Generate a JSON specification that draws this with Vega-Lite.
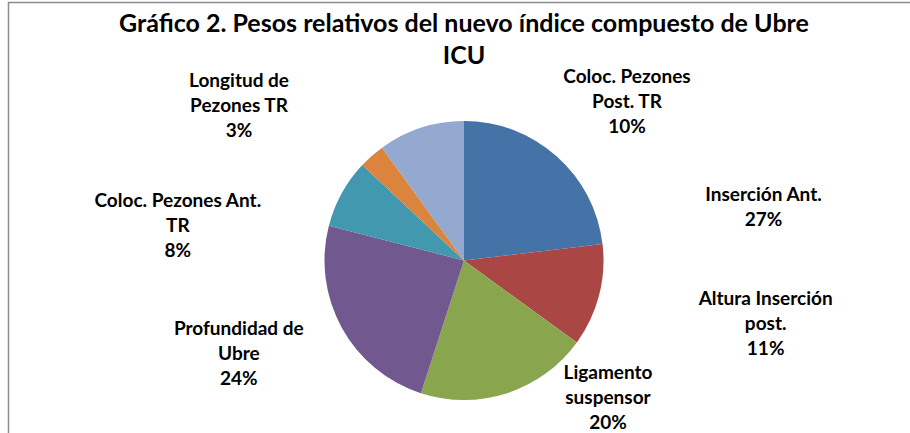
{
  "$schema": "https://vega.github.io/schema/vega-lite/v6.json",
  "width": 911,
  "height": 516,
  "autosize": {"type": "none"},
  "padding": {"left": 8.5, "top": 2.5, "right": -9.5, "bottom": -85.5},
  "background": "white",
  "view": {"stroke": "#8c8c8c", "strokeWidth": 1.5, "fill": "white"},
  "config": {
    "view": {"stroke": "#8c8c8c", "strokeWidth": 1.5},
    "text": {"font": "Lato", "fontWeight": "bold", "fontSize": 19, "lineHeight": 25, "color": "#000000", "align": "center", "baseline": "middle", "lineBreak": "\n"}
  },
  "title": {
    "text": ["Gráfico 2. Pesos relativos del nuevo índice compuesto de Ubre", "ICU"],
    "font": "Lato",
    "fontWeight": "bold",
    "fontSize": 25,
    "lineHeight": 32.6,
    "color": "#000000",
    "anchor": "middle",
    "frame": "group",
    "offset": -123
  },
  "data": {
    "values": [
      {"name": "Inserción Ant.", "value": 23.1, "label": "Inserción Ant.\n27%", "ord": 1},
      {"name": "Altura Inserción post.", "value": 11.9, "label": "Altura Inserción\npost.\n11%", "ord": 2},
      {"name": "Ligamento suspensor", "value": 20.0, "label": "Ligamento\nsuspensor\n20%", "ord": 3},
      {"name": "Profundidad de Ubre", "value": 24.0, "label": "Profundidad de\nUbre\n24%", "ord": 4},
      {"name": "Coloc. Pezones Ant. TR", "value": 8.0, "label": "Coloc. Pezones Ant.\nTR\n8%", "ord": 5},
      {"name": "Longitud de Pezones TR", "value": 3.0, "label": "Longitud de\nPezones TR\n3%", "ord": 6},
      {"name": "Coloc. Pezones Post. TR", "value": 10.0, "label": "Coloc. Pezones\nPost. TR\n10%", "ord": 7}
    ]
  },
  "encoding": {
    "theta": {"field": "value", "type": "quantitative", "stack": true},
    "order": {"field": "ord", "type": "quantitative"},
    "detail": {"field": "name", "type": "nominal"}
  },
  "layer": [
    {
      "mark": {"type": "arc", "radius": 139.5},
      "encoding": {
        "color": {
          "field": "name",
          "type": "nominal",
          "legend": null,
          "scale": {
            "domain": ["Inserción Ant.", "Altura Inserción post.", "Ligamento suspensor", "Profundidad de Ubre", "Coloc. Pezones Ant. TR", "Longitud de Pezones TR", "Coloc. Pezones Post. TR"],
            "range": ["#4572A7", "#AA4643", "#89A54E", "#71588F", "#4198AF", "#DB843D", "#93A9CF"]
          }
        }
      }
    },
    {
      "mark": {"type": "text", "radius": 306.6, "thetaOffset": 0.6297},
      "encoding": {"text": {"condition": {"test": "datum.ord === 1", "field": "label"}, "value": ""}}
    },
    {
      "mark": {"type": "text", "radius": 304.1, "thetaOffset": -0.1276},
      "encoding": {"text": {"condition": {"test": "datum.ord === 2", "field": "label"}, "value": ""}}
    },
    {
      "mark": {"type": "text", "radius": 182.7, "thetaOffset": -0.5934},
      "encoding": {"text": {"condition": {"test": "datum.ord === 3", "field": "label"}, "value": ""}}
    },
    {
      "mark": {"type": "text", "radius": 235.4, "thetaOffset": 0.2073},
      "encoding": {"text": {"condition": {"test": "datum.ord === 4", "field": "label"}, "value": ""}}
    },
    {
      "mark": {"type": "text", "radius": 292.3, "thetaOffset": -0.2978},
      "encoding": {"text": {"condition": {"test": "datum.ord === 5", "field": "label"}, "value": ""}}
    },
    {
      "mark": {"type": "text", "radius": 287.8, "thetaOffset": -0.1749},
      "encoding": {"text": {"condition": {"test": "datum.ord === 6", "field": "label"}, "value": ""}}
    },
    {
      "mark": {"type": "text", "radius": 245.8, "thetaOffset": 1.0392},
      "encoding": {"text": {"condition": {"test": "datum.ord === 7", "field": "label"}, "value": ""}}
    }
  ]
}
